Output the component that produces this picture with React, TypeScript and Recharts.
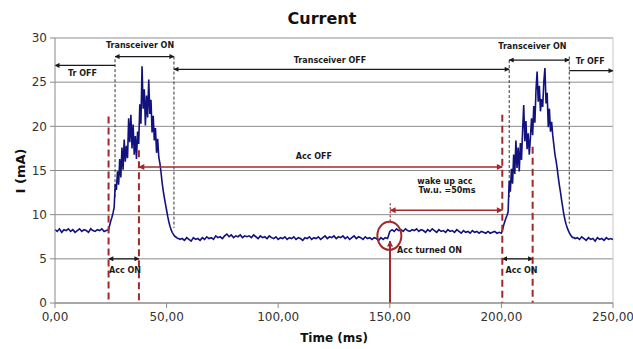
import React from 'react';
import { LineChart, Line, XAxis, YAxis, CartesianGrid, ReferenceLine, ReferenceDot } from 'recharts';

const FONT = '"DejaVu Sans", Verdana, sans-serif';
const RED = '#a3282b';
const INK = '#1a1a1a';

// current trace (mA)
const idleBefore = [8.3, 8.1, 8.4, 8.0, 8.3, 8.2, 8.4, 8.1, 8.3, 8.0, 8.2, 8.4, 8.1, 8.3, 8.2, 8.0, 8.4, 8.2, 8.1, 8.3, 8.2, 8.4, 8.1, 8.2]; // 0..23 ms
const burst1 = [
  8.3, 8.8, 9.3, 9.7, 10.2, 10.8, 13.5, 12.8, 14.9, 13.4,
  16.3, 14.2, 17.6, 15.1, 18.5, 16.0, 17.8, 16.4, 20.9, 18.2,
  21.3, 17.5, 20.2, 16.8, 18.9, 16.3, 19.4, 18.0, 22.5, 20.3,
  26.8, 22.0, 24.2, 20.1, 23.5, 21.0, 25.3, 21.4, 23.0, 19.3,
  21.2, 18.4, 19.8, 17.0, 18.6, 16.5, 15.8, 14.8, 13.6, 12.7,
  11.9, 11.2, 10.5, 9.8, 9.2, 8.7, 8.3, 8.0, 7.8, 7.6,
  7.5, 7.4, 7.3, 7.3, 7.2,
]; // 24..56 ms, 0.5 ms apart
const idleMid = [
  7.3, 7.1, 7.4, 7.2, 7.0, 7.4, 7.2, 7.3, 7.1, 7.4,
  7.2, 7.5, 7.3, 7.4, 7.2, 7.6, 7.4, 7.5, 7.3, 7.6,
  7.8, 7.5, 7.7, 7.4, 7.6, 7.5, 7.7, 7.4, 7.6, 7.5,
  7.6, 7.4, 7.7, 7.5, 7.3, 7.6, 7.4, 7.5, 7.3, 7.6,
  7.4, 7.3, 7.5, 7.2, 7.4, 7.3, 7.5, 7.2, 7.4, 7.3,
  7.5, 7.2, 7.4, 7.3, 7.1, 7.4, 7.3, 7.5, 7.2, 7.4,
  7.3, 7.5, 7.2, 7.4, 7.6, 7.3, 7.5, 7.4, 7.6, 7.3,
  7.5, 7.4, 7.6, 7.3, 7.5, 7.2, 7.4, 7.6, 7.3, 7.5,
  7.4, 7.2, 7.5, 7.3, 7.4, 7.2, 7.4, 7.3, 7.1, 7.4,
  7.2, 7.4, 7.3, 8.1, 8.3, 8.1, 8.4, 8.2, 8.3, 8.1,
  8.4, 8.2, 8.1, 8.3, 8.2, 8.4, 8.1, 8.3, 8.2, 8.0,
  8.3, 8.1, 8.4, 8.2, 8.0, 8.3, 8.1, 8.2, 8.0, 8.3,
  8.1, 8.2, 8.0, 8.3, 8.1, 7.9, 8.2, 8.0, 8.1, 7.9,
  8.2, 8.0, 8.1, 7.9, 8.1, 8.0, 7.9, 8.1, 7.9, 8.0,
  8.1, 7.9, 8.0,
]; // 57..199 ms
const burst2 = [
  7.9, 8.3, 8.8, 9.2, 9.6, 9.9, 10.3, 13.8, 12.6, 15.2,
  13.5, 16.8, 14.6, 18.4, 15.3, 17.6, 14.9, 18.1, 16.2, 19.5,
  22.4, 18.3, 20.6, 17.4, 19.2, 16.8, 18.7, 20.9, 19.0, 22.3,
  20.4, 24.1, 26.2, 22.8, 24.6, 21.7, 23.1, 22.2, 25.0, 26.6,
  22.6, 23.8, 19.9, 22.0, 19.4, 20.5, 19.0, 17.9, 16.8, 16.1,
  15.2, 14.2, 13.3, 12.5, 11.6, 10.8, 10.0, 9.4, 8.9, 8.5,
  8.2, 7.9, 7.7, 7.5, 7.4, 7.4, 7.3,
]; // 200..233 ms, 0.5 ms apart
const idleAfter = [7.4, 7.2, 7.5, 7.3, 7.1, 7.4, 7.2, 7.3, 7.0, 7.4, 7.2, 7.3, 7.1, 7.4, 7.2, 7.3, 7.2]; // 234..250 ms

const xTicks = [0, 50, 100, 150, 200, 250];
const yTicks = [0, 5, 10, 15, 20, 25, 30];

const segments = [
  { start: 0, step: 1, values: idleBefore },
  { start: 24, step: 0.5, values: burst1 },
  { start: 57, step: 1, values: idleMid },
  { start: 200, step: 0.5, values: burst2 },
  { start: 234, step: 1, values: idleAfter },
];
const data = segments.flatMap((s) => s.values.map((v, i) => ({ t: s.start + i * s.step, i: v })));

// transceiver switch instants: [t, top, bottom]
const trMarks = [[26.9, 27.6, 12], [53.3, 27.9, 8.5], [203.5, 27.5, 12], [230.4, 27.9, 9]];
// accelerometer switch instants: [t, top]
const accMarks = [[24.0, 21.1], [37.6, 17.3], [200.4, 21.3], [214.0, 17.7]];

// [t1, t2, y, headAtStart, headAtEnd]
const blackArrows: [number, number, number, boolean, boolean][] = [
  [0, 26.9, 26.9, true, false],
  [26.9, 53.3, 27.9, true, true],
  [53.3, 203.5, 26.45, true, true],
  [203.5, 230.4, 27.5, true, true],
  [230.4, 250, 26.3, false, true],
  [24.1, 37.6, 5, true, true],
  [200.5, 214.0, 5, true, true],
];
const redArrows: [number, number, number, boolean, boolean][] = [
  [37.6, 200.4, 15.4, true, true],
  [150.2, 200.4, 10.5, true, true],
];

// [text, t, y]
const labels: [string, number, number][] = [
  ['Tr OFF', 12.3, 26.0],
  ['Transceiver ON', 38.1, 29.2],
  ['Transceiver OFF', 123.2, 27.4],
  ['Transceiver ON', 213.9, 29.0],
  ['Tr OFF', 239.8, 27.3],
  ['Acc OFF', 116, 16.6],
  ['wake up acc', 174.7, 13.8],
  ['Tw.u. =50ms', 175.6, 12.7],
  ['Acc turned ON', 167.8, 6.0],
  ['Acc ON', 31.4, 3.7],
  ['Acc ON', 209.0, 3.7],
];

const fmt = (v: number) => v.toFixed(2).replace('.', ',');

const seg = (color: string, width: number, dash?: string, start = false, end = false, marker = 'k') => (p: any) => (
  <line
    x1={p.x1} y1={p.y1} x2={p.x2} y2={p.y2}
    stroke={color} strokeWidth={width} strokeDasharray={dash}
    markerStart={start ? `url(#ah-${marker})` : undefined}
    markerEnd={end ? `url(#ah-${marker})` : undefined}
  />
);

const textAt = (text: string) => (p: any) => (
  <text x={p.cx} y={p.cy} textAnchor="middle" dominantBaseline="central"
    fontFamily={FONT} fontWeight="bold" fontSize={8} fill={INK}>{text}</text>
);

export default function App() {
  return (
    <div style={{ position: 'absolute', left: 0, top: 0, width: 633, height: 349, background: '#fff' }}>
      <LineChart width={633} height={349} data={data} margin={{ top: 38, right: 20, left: 10, bottom: 16 }}>
        <defs>
          <marker id="ah-k" viewBox="0 0 10 10" refX="9" refY="5" markerWidth="6" markerHeight="5"
            markerUnits="userSpaceOnUse" orient="auto-start-reverse">
            <path d="M0,0 L10,5 L0,10 z" fill={INK} />
          </marker>
          <marker id="ah-r" viewBox="0 0 10 10" refX="9" refY="5" markerWidth="7" markerHeight="6"
            markerUnits="userSpaceOnUse" orient="auto-start-reverse">
            <path d="M0,0 L10,5 L0,10 z" fill={RED} />
          </marker>
        </defs>
        <CartesianGrid vertical={false} stroke="#8c8c8c" />
        <XAxis type="number" dataKey="t" domain={[0, 250]} ticks={xTicks} tickFormatter={fmt}
          stroke="#8a8a8a" tickSize={5} tickMargin={4} height={30}
          tick={{ fill: '#333', fontSize: 12, fontFamily: FONT }} />
        <YAxis type="number" domain={[0, 30]} ticks={yTicks} stroke="#8a8a8a" tickSize={5} tickMargin={3} width={45}
          tick={{ fill: '#333', fontSize: 12, fontFamily: FONT }} />
        <ReferenceLine y={30} stroke="#c8c8c8" />
        <ReferenceLine x={250} stroke="#c8c8c8" />

        {trMarks.map(([t, top, bot], k) => (
          <ReferenceLine key={`tr${k}`} segment={[{ x: t, y: top }, { x: t, y: bot }]} shape={seg('#333', 1, '3 2')} />
        ))}
        {blackArrows.map(([a, b, y, s, e], k) => (
          <ReferenceLine key={`ba${k}`} segment={[{ x: a, y }, { x: b, y }]} shape={seg(INK, 1.2, undefined, s, e, 'k')} />
        ))}

        <Line type="linear" dataKey="i" stroke="#12127f" strokeWidth={1.6} dot={false} isAnimationActive={false} />

        {accMarks.map(([t, top], k) => (
          <ReferenceLine key={`acc${k}`} segment={[{ x: t, y: top }, { x: t, y: 0 }]} shape={seg(RED, 2, '7 4')} />
        ))}
        {redArrows.map(([a, b, y, s, e], k) => (
          <ReferenceLine key={`ra${k}`} segment={[{ x: a, y }, { x: b, y }]} shape={seg(RED, 1.6, undefined, s, e, 'r')} />
        ))}
        <ReferenceLine segment={[{ x: 150.2, y: 11.3 }, { x: 150.2, y: 9.2 }]} shape={seg(RED, 1.2, '2 2')} />
        <ReferenceLine segment={[{ x: 150.1, y: 0 }, { x: 150.1, y: 7.0 }]} shape={seg(RED, 2, undefined, false, true, 'r')} />
        <ReferenceDot x={149.8} y={7.6} ifOverflow="visible"
          shape={(p: any) => <ellipse cx={p.cx} cy={p.cy} rx={12} ry={14} fill="none" stroke={RED} strokeWidth={2} />} />

        {labels.map(([text, t, y], k) => (
          <ReferenceDot key={`lb${k}`} x={t} y={y} ifOverflow="visible" shape={textAt(text)} />
        ))}
      </LineChart>
      <svg width={633} height={349} style={{ position: 'absolute', left: 0, top: 0, pointerEvents: 'none' }}>
        <text x={322} y={24} textAnchor="middle" fontFamily={FONT} fontWeight="bold" fontSize={16} fill="#111">Current</text>
        <text x={334} y={342} textAnchor="middle" fontFamily={FONT} fontWeight="bold" fontSize={12} fill="#111">Time (ms)</text>
        <text x={20} y={171} textAnchor="middle" dominantBaseline="central" transform="rotate(-90 20 171)"
          fontFamily={FONT} fontWeight="bold" fontSize={13} fill="#111">I (mA)</text>
      </svg>
    </div>
  );
}
